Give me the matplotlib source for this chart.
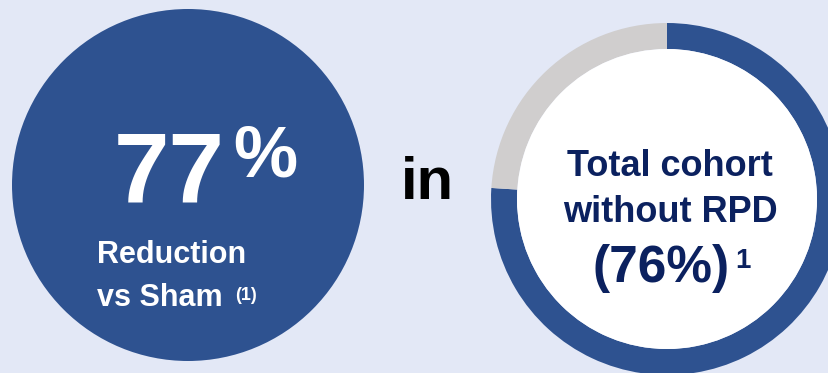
import matplotlib
matplotlib.use("Agg")
import matplotlib.pyplot as plt
from matplotlib.patches import Circle

# values shown in the graphic
reduction_pct = 77
cohort_pct = 76
ring_values = [cohort_pct, 100 - cohort_pct]
ring_colors = ["#2E5290", "#D0CECE"]

bg = "#E3E8F6"
blue = "#2E5290"
navy = "#0B215F"
W, H = 829, 373

plt.rcParams["font.family"] = ["Liberation Sans", "DejaVu Sans"]

fig = plt.figure(figsize=(W / 100, H / 100), dpi=100, facecolor=bg)
ax = fig.add_axes([0, 0, 1, 1])
ax.set_facecolor(bg)


def py(y):
    # image rows run top-down
    return H - y


# left solid circle
ax.add_patch(Circle((188, py(185)), 176, color=blue, lw=0))
ax.text(114, py(203), f"{reduction_pct}", color="white", fontsize=72,
        fontweight="bold", ha="left", va="baseline")
ax.text(233, py(177), "%", color="white", fontsize=52,
        fontweight="bold", ha="left", va="baseline")
ax.text(97, py(263), "Reduction", color="white", fontsize=22,
        fontweight="bold", ha="left", va="baseline")
ax.text(97, py(306), "vs Sham", color="white", fontsize=22,
        fontweight="bold", ha="left", va="baseline")
ax.text(235, py(300), "(1)", color="white", fontsize=13,
        fontweight="bold", ha="left", va="baseline")

ax.text(401, py(199), "in", color="black", fontsize=43,
        fontweight="bold", ha="left", va="baseline")

# right ring
cx, cy, r_out, ring_w = 667, py(199), 176, 26
ax.pie(ring_values, colors=ring_colors, startangle=90, counterclock=False,
       center=(cx, cy), radius=r_out,
       wedgeprops=dict(width=ring_w, linewidth=0))
ax.add_patch(Circle((cx, cy), r_out - ring_w, color="white", lw=0))

ax.text(670, py(176), "Total cohort", color=navy, fontsize=26,
        fontweight="bold", ha="center", va="baseline")
ax.text(670, py(222), "without RPD", color=navy, fontsize=26,
        fontweight="bold", ha="center", va="baseline")
ax.text(661, py(282), f"({cohort_pct}%)", color=navy, fontsize=37,
        fontweight="bold", ha="center", va="baseline")
ax.text(735, py(268), "1", color=navy, fontsize=20,
        fontweight="bold", ha="left", va="baseline")

ax.set_xlim(0, W)
ax.set_ylim(0, H)
ax.set_aspect("equal")
ax.axis("off")

fig.savefig("out.png", dpi=100, facecolor=bg)
